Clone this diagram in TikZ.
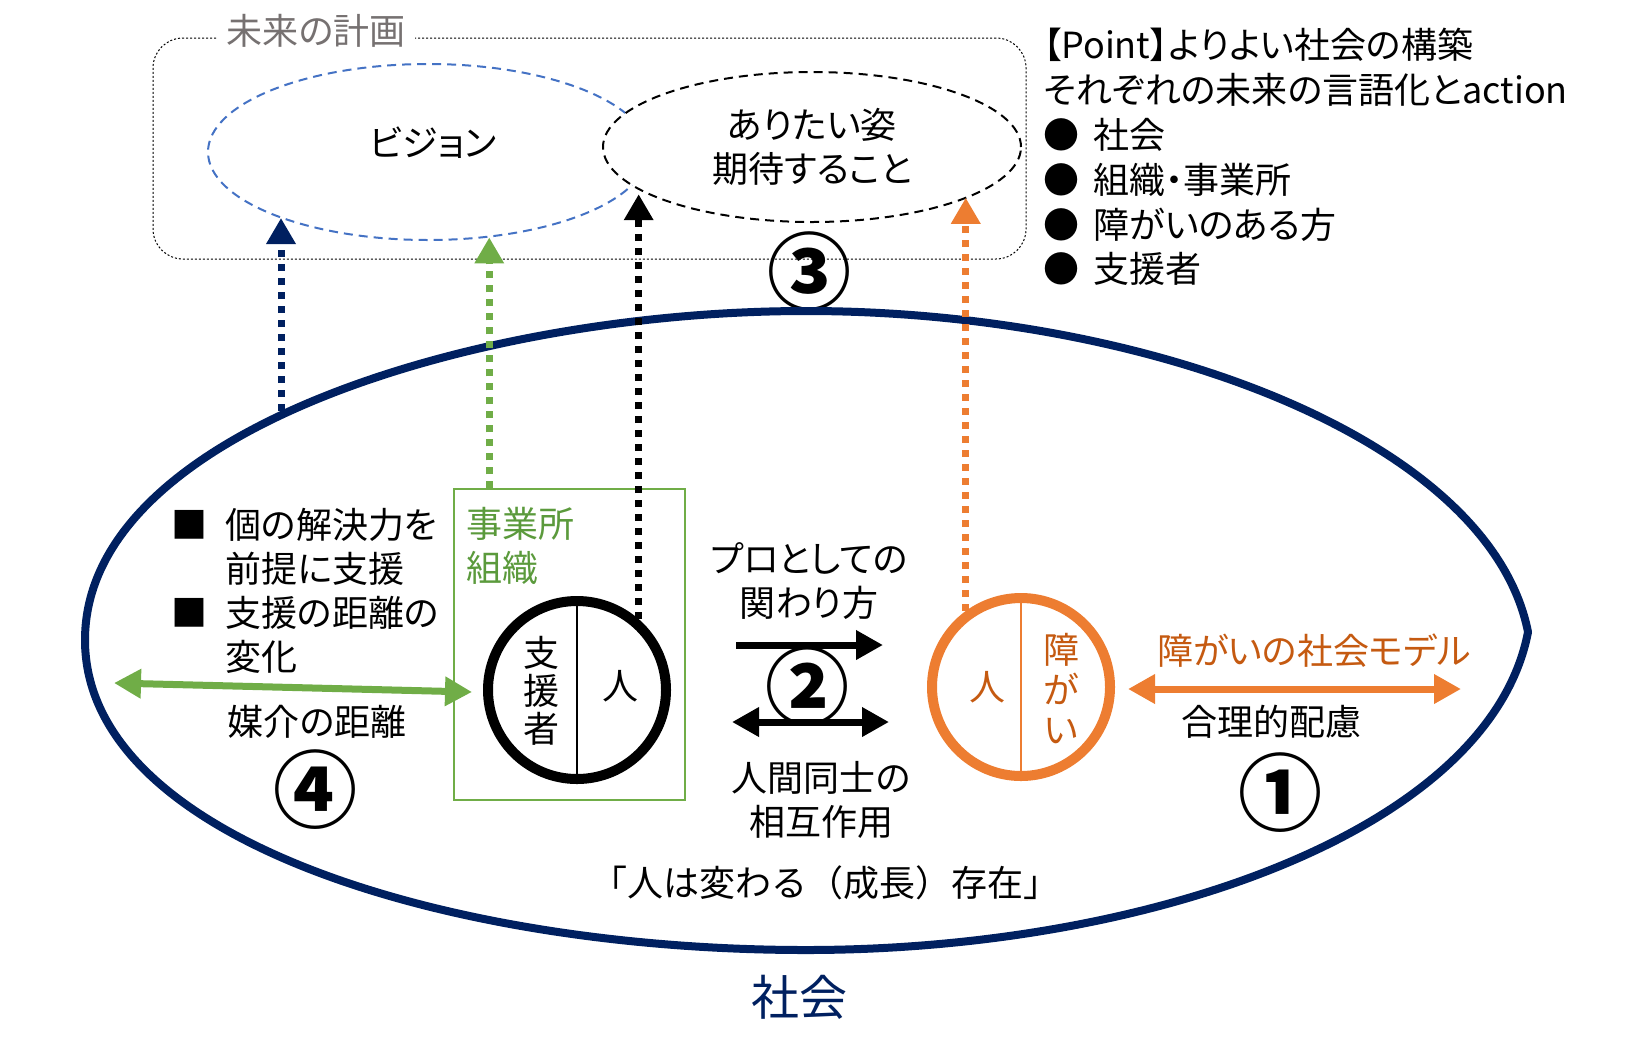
\documentclass[tikz,border=0pt]{standalone}
\usepackage{fontspec}
\setmainfont{Noto Sans CJK JP}[RawFeature=+palt]
\newfontfamily\widefont{Noto Sans CJK JP}
\usetikzlibrary{arrows.meta, shapes.geometric}
\definecolor{navy}{HTML}{002060}
\definecolor{skyblue}{HTML}{4472C4}
\definecolor{leaf}{HTML}{70AD47}
\definecolor{leaftext}{HTML}{5B9A3C}
\definecolor{amber}{HTML}{ED7D31}
\definecolor{ambertext}{HTML}{C55A11}
\definecolor{ash}{HTML}{767171}
\newcommand{\bodyfont}{\fontsize{18pt}{22pt}\selectfont}
\newcommand{\numfont}{\fontsize{42pt}{42pt}\selectfont\bfseries}
\tikzset{
  txt/.style     = {font=\bodyfont, align=center, inner sep=0pt},
  planbox/.style = {draw, line width=0.5pt, dash pattern=on 1pt off 1pt,
                    rounded corners=15pt},
  dream/.style   = {ellipse, line width=1pt, dash pattern=on 4.5pt off 3pt,
                    inner sep=0pt, font=\bodyfont, align=center},
  ring/.style    = {circle, line width=5pt, minimum size=89pt, inner sep=0pt},
  rise/.style    = {line width=3.5pt, dash pattern=on 3.5pt off 3.5pt,
                    -{Triangle[length=13pt, width=14pt]}},
  flow/.style    = {line width=3.5pt, -{Triangle[length=13.5pt, width=14pt]}},
  twoway/.style  = {line width=3.5pt,
                    {Triangle[length=13.5pt, width=14pt]}-{Triangle[length=13.5pt, width=14pt]}},
  num/.style     = {font=\numfont, inner sep=0pt},
}

\begin{document}
\begin{tikzpicture}[x=0.5pt, y=-0.5pt]
  \useasboundingbox (0,0) rectangle (1625,1045);

  % future plan
  \node[planbox, minimum width=436.5pt, minimum height=110.5pt] (plan) at (589.5,148.5) {};
  \node[txt, text=ash, fill=white, inner xsep=5pt] (plantitle) at (316,31) {未来の計画};
  \node[dream, draw=skyblue, minimum width=220pt, minimum height=88pt] (vision) at (428,152)
    {\raisebox{10pt}{\hspace{5pt}ビジョン}};
  \node[dream, draw=black, fill=white, minimum width=209pt, minimum height=75pt] (wish) at (812,147)
    {ありたい姿\\期待すること};
  \node[num] (n3) at (809,272) {③};

  \node[txt, anchor=west, align=left] (point) at (1043,162) {\fontsize{18pt}{22.4pt}\selectfont
    \begin{tabular}{@{}l@{\hspace{7pt}}l@{}}
      \multicolumn{2}{@{}l@{}}{【Point】よりよい社会の構築}\\
      \multicolumn{2}{@{}l@{}}{それぞれの未来の言語化とaction}\\
      ● & 社会\\
      ● & 組織・事業所\\
      ● & 障がいのある方\\
      ● & 支援者
    \end{tabular}};

  % society
  \draw[navy, line width=4pt, line join=round] (85,640) .. controls (85,430) and (480,311) .. (806,311)
    .. controls (1150,311) and (1490,440) .. (1528,632)
    .. controls (1490,830) and (1150,950) .. (806,950)
    .. controls (450,950) and (85,840) .. cycle;
  \coordinate (soc1) at (281,411);
  \node[txt, text=navy, font=\fontsize{24pt}{28pt}\selectfont] (society) at (799,997) {社会};

  % office and supporter
  \node[draw=leaf, line width=0.75pt, minimum width=115.5pt, minimum height=155.5pt] (office) at (569.5,644.5) {};
  \node[txt, text=leaftext, anchor=west, align=left] (officelab) at (466,546) {事業所\\組織};
  \node[ring, draw=black] (sup) at (577,690) {};
  \draw[line width=0.6pt] (sup.north) -- (sup.south);
  \node[txt, font=\fontsize{18pt}{19pt}\selectfont] (suplab) at (541,691) {支\\援\\者};
  \node[txt] (supman) at (620,686) {人};

  % person with disability
  \node[ring, draw=amber] (hum) at (1021,687) {};
  \draw[amber, line width=0.6pt] (hum.north) -- (hum.south);
  \node[txt, text=ambertext] (humman) at (987,687) {人};
  \node[txt, text=ambertext, font=\fontsize{18pt}{20pt}\selectfont] (humlab) at (1061,689) {障\\が\\い};

  % rising arrows
  \coordinate (g0) at ([xshift=18pt]office.north west);
  \draw[rise, navy] (soc1) -- (soc1 |- vision.204);
  \draw[rise, leaf] (g0) -- (g0 |- vision.306);
  \draw[rise, black] (sup.49) -- (sup.49 |- wish.196);
  \draw[rise, amber] (hum.126) -- (hum.126 |- wish.342);

  % interaction
  \node[txt] (prolab) at (809,581) {プロとしての\\関わり方};
  \coordinate (pro0) at (736,645);
  \coordinate (pro1) at (883,645);
  \draw[flow] (pro0) -- (pro1);
  \node[num] (n2) at (807,687) {②};
  \coordinate (mut0) at (732,722);
  \coordinate (mut1) at (889,722);
  \draw[twoway] (mut0) -- (mut1);
  \node[txt] (mutlab) at (821,800) {人間同士の\\相互作用};
  \node[txt, font=\bodyfont\widefont] (growth) at (825,883) {「人は変わる（成長）存在」};

  % social model
  \node[txt, text=ambertext] (modellab) at (1314,651) {障がいの社会モデル};
  \coordinate (mod0) at (1128,689);
  \coordinate (mod1) at (1461,689);
  \draw[twoway, amber] (mod0) -- (mod1);
  \node[txt] (careLab) at (1271,722) {合理的配慮};
  \node[num] (n1) at (1280,793) {①};

  % mediation distance
  \node[txt, anchor=west, align=left] (points) at (171,596) {\bodyfont
    \begin{tabular}{@{}l@{\hspace{9pt}}l@{}}
      ■ & 個の解決力を\\
        & 前提に支援\\
      ■ & 支援の距離の\\
        & 変化
    \end{tabular}};
  \coordinate (med0) at (114,683);
  \coordinate (med1) at (472,692);
  \draw[twoway, leaf] (med0) -- (med1);
  \node[txt] (medlab) at (317,722) {媒介の距離};
  \node[num] (n4) at (315,790) {④};
\end{tikzpicture}
\end{document}
